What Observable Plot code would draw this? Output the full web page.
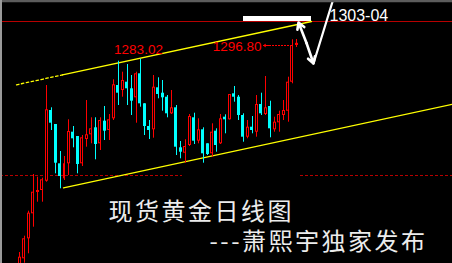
<!DOCTYPE html>
<html><head><meta charset="utf-8">
<script src="https://cdn.jsdelivr.net/npm/d3@7"></script>
<script src="https://cdn.jsdelivr.net/npm/@observablehq/plot@0.6"></script>
<style>html,body{margin:0;padding:0;background:#000;overflow:hidden}</style>
</head><body><div id="chart"></div>
<script>
// Daily gold candles (price units), oldest first
const open  = [1076.8,1083.5,1103.5,1128.5,1149.8,1151.8,1161.1,1231.8,1217.8,1178.5,1163.5,1178.5,1210.1,1205.8,1178.5,1202.8,1207.5,1214.5,1198.5,1221.1,1211.8,1223.5,1256.8,1251.8,1260.1,1253.5,1244.5,1268.5,1238.5,1215.8,1212.5,1254.5,1249.1,1245.1,1228.5,1234.5,1194.5,1189.1,1196.8,1224.5,1201.1,1212.5,1198.5,1188.5,1211.1,1198.5,1225.1,1222.5,1248.5,1245.1,1226.8,1205.1,1215.1,1210.1,1237.8,1227.8,1235.8,1212.5,1219.5,1226.8,1231.1,1260.1,1296.8];
const high  = [1089.8,1106.1,1131.1,1167.8,1165.1,1164.1,1256.8,1234.5,1217.8,1190.8,1185.8,1222.5,1215.8,1205.8,1206.8,1241.8,1224.5,1224.5,1224.5,1235.8,1227.8,1262.5,1281.1,1270.1,1277.8,1266.8,1270.1,1283.02,1238.5,1221.8,1266.8,1264.5,1261.8,1246.8,1251.8,1236.8,1200.8,1202.5,1227.8,1229.1,1223.5,1214.5,1198.5,1218.5,1213.5,1227.8,1227.5,1247.8,1255.8,1246.8,1228.5,1221.8,1225.8,1246.8,1249.1,1265.8,1241.1,1225.1,1231.1,1241.8,1265.1,1302.5,1302.8];
const low   = [1074.0,1079.1,1088.5,1115.1,1140.1,1140.1,1160.1,1211.8,1168.5,1153.5,1161.8,1166.8,1194.5,1168.5,1175.8,1195.1,1198.5,1182.5,1191.8,1201.8,1201.8,1221.8,1236.8,1245.1,1236.8,1226.8,1219.1,1235.1,1206.8,1202.8,1204.1,1243.5,1231.1,1224.5,1227.8,1186.8,1183.5,1179.1,1195.8,1197.8,1198.5,1179.1,1186.8,1185.1,1190.1,1197.8,1208.5,1222.3,1240.1,1221.8,1200.1,1203.5,1208.5,1205.1,1226.8,1226.8,1204.5,1210.1,1210.1,1221.8,1220.1,1258.5,1294.8];
const close = [1085.1,1103.5,1129.1,1150.1,1151.8,1162.5,1232.5,1219.1,1179.1,1165.8,1178.5,1210.8,1203.5,1177.8,1204.5,1207.5,1213.5,1197.8,1221.8,1211.1,1222.5,1257.5,1249.1,1261.8,1253.5,1241.1,1268.5,1238.5,1215.8,1211.8,1255.1,1247.8,1244.5,1228.5,1234.5,1195.1,1190.1,1195.8,1225.8,1201.1,1212.5,1188.5,1187.8,1210.1,1196.8,1223.5,1222.5,1247.8,1245.1,1226.8,1205.1,1215.1,1211.8,1237.8,1228.5,1234.5,1213.5,1220.1,1227.8,1231.8,1260.1,1296.8,1299.0];

// Price labels and levels
const highLabel = 1283.02;
const lastLabel = 1296.80;
const targetLabel = "1303-04";
const targetLevel = 1320.8;
const supportLevel = 1166.8;
const title1 = "现货黄金日线图";
const title2 = "---萧熙宇独家发布";

// Channel lines (bar index, price)
const upperDotted = [{x:-0.74,y:1257.5},{x:9.55,y:1267.4}];
const upperSolid  = [{x:9.55,y:1267.4},{x:65.26,y:1320.8}];
const lowerLine   = [{x:9.84,y:1154.5},{x:96.8,y:1238.1}];
const supportSegs = [{x1:-4.32,x2:36.4},{x1:62.8,x2:96.8}];
const targetBar   = [{x1:49.98,x2:65.26,y1:targetLevel,y2:1325.8}];
const forecast    = [{x:62.35,y:1319.8},{x:65.70,y:1278.8},{x:70.18,y:1343.8}];
const forecastMid = {x:64.03,y:1299.3};

const RED = "#ff0000", CYAN = "#00ffff", YEL = "#ffff00", DRED = "#b80000";
const candles = open.map((o,i)=>({i,o,h:high[i],l:low[i],c:close[i],up:close[i]>=o}));
const W = 0.335;

const chart = Plot.plot({
  width: 452, height: 263,
  marginTop: 0, marginBottom: 0, marginLeft: 0, marginRight: 0,
  x: {domain: [-4.318, 96.80], axis: null, round: true},
  y: {domain: [1078.8, 1341.8], axis: null},
  color: {type: "identity"},
  style: {background: "#000", overflow: "hidden"},
  marks: [
    Plot.ruleY(supportSegs, {y: () => supportLevel, x1: "x1", x2: "x2", stroke: DRED, strokeDasharray: "3,2"}),
    Plot.ruleY([targetLevel], {stroke: DRED, strokeWidth: 1}),
    Plot.line(upperDotted, {x: "x", y: "y", stroke: YEL, strokeWidth: 1.3, strokeDasharray: "2.5,2.5"}),
    Plot.line(upperSolid, {x: "x", y: "y", stroke: YEL, strokeWidth: 1.3}),
    Plot.line(lowerLine, {x: "x", y: "y", stroke: YEL, strokeWidth: 1.3}),
    Plot.ruleX(candles, {x: "i", y1: "l", y2: "h", stroke: d => d.up ? RED : CYAN, strokeWidth: 1}),
    Plot.rect(candles, {x1: d => d.i - W, x2: d => d.i + W,
      y1: d => Math.min(d.o, d.c) - (Math.abs(d.o-d.c) < 1 ? 0.6 : 0),
      y2: d => Math.max(d.o, d.c) + (Math.abs(d.o-d.c) < 1 ? 0.6 : 0),
      fill: d => d.up ? RED : CYAN}),
    Plot.rect(candles.filter(d => d.up && d.c - d.o > 2.5), {x1: d => d.i - W, x2: d => d.i + W, y1: "o", y2: "c", fill: "#000", inset: 1}),
    Plot.rect(targetBar, {x1: "x1", x2: "x2", y1: "y1", y2: "y2", fill: "#fff"}),
    Plot.text([highLabel], {x: 27, y: d => d, text: d => d.toFixed(2), fill: RED, fontSize: 13.5, fontFamily: "Liberation Sans", textAnchor: "middle", lineAnchor: "bottom", dy: -5, dx: -2}),
    Plot.text([lastLabel], {x: 54.07, y: 1291.1, text: d => d.toFixed(2), fill: RED, fontSize: 13.5, fontFamily: "Liberation Sans", textAnchor: "end", lineAnchor: "bottom"}),
    Plot.ruleY([lastLabel], {x1: 55.86, x2: 60.78, stroke: RED, strokeDasharray: "2,1"}),
    Plot.arrow([lastLabel], {x1: 56.08, x2: 54.63, y1: d => d, y2: d => d, stroke: RED, strokeWidth: 1, headLength: 6}),
    Plot.text([targetLabel], {x: 69.28, y: targetLevel + 0.3, text: d => d, fill: "#fff", fontSize: 16, fontFamily: "Liberation Sans", textAnchor: "start", lineAnchor: "bottom"}),
    Plot.arrow([0], {x1: forecastMid.x, y1: forecastMid.y, x2: forecast[0].x, y2: forecast[0].y, stroke: "#fff", strokeWidth: 2.6, headLength: 10}),
    Plot.arrow([0], {x1: forecastMid.x, y1: forecastMid.y, x2: forecast[1].x, y2: forecast[1].y, stroke: "#fff", strokeWidth: 2.6, headLength: 10}),
    Plot.line(forecast.slice(1), {x: "x", y: "y", stroke: "#fff", strokeWidth: 2.2}),
    Plot.text([title1], {x: 19.87, y: 1122.3, text: d => d, fill: "#ececec", fontSize: 24, fontFamily: "Noto Sans CJK SC", textAnchor: "start", lineAnchor: "bottom"}),
    Plot.text([title2], {x: 42.5, y: 1092.3, text: d => d, fill: "#ececec", fontSize: 24, fontFamily: "Noto Sans CJK SC", textAnchor: "start", lineAnchor: "bottom"}),
    Plot.ruleY([1341.8], {stroke: "#5c5c5c", strokeWidth: 3.5}),
    Plot.ruleX([-4.318], {stroke: "#9a9a9a", strokeWidth: 3})
  ]
});
chart.querySelectorAll("text").forEach(t => { if (/[\u4e00-\u9fff]/.test(t.textContent)) t.setAttribute("letter-spacing", "2.5"); });
document.getElementById("chart").appendChild(chart);
</script></body></html>
